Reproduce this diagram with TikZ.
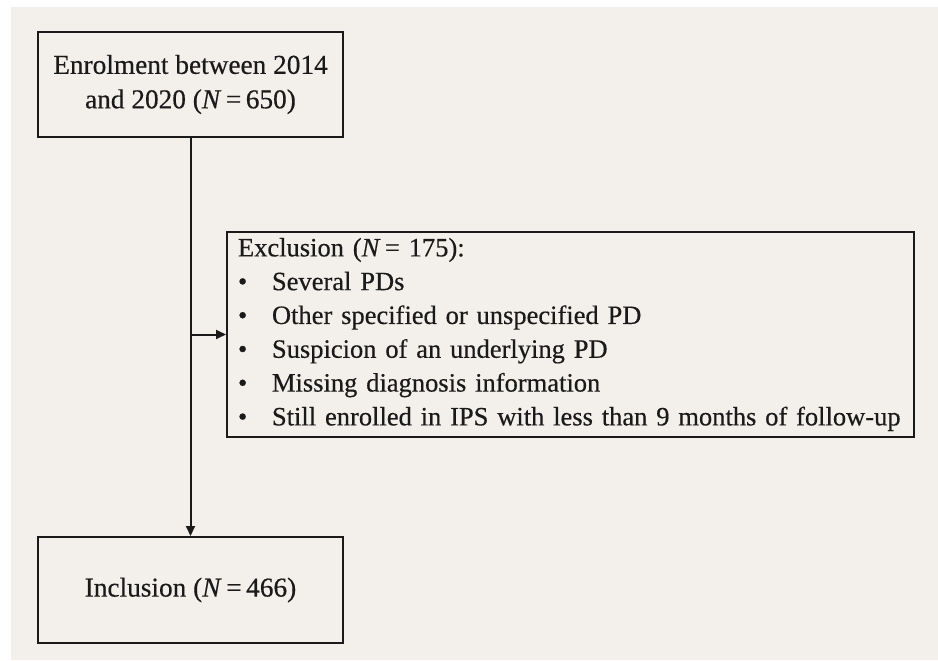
\documentclass[tikz,border=0pt]{standalone}
\usepackage{fontspec}
\setmainfont{Liberation Serif}[FakeBold=0.4]
\usetikzlibrary{arrows.meta}
\definecolor{panelbg}{HTML}{F3F0EB}
\definecolor{ink}{HTML}{1A1A1A}
\begin{document}
\begin{tikzpicture}[x=1pt,y=-1pt,
  box/.style={draw=ink,line width=2pt,rectangle,inner sep=0pt,text=ink,
    font=\fontsize{27.3}{34.5}\selectfont},
  conn/.style={draw=ink,line width=2pt},
  tip/.style={-{Triangle[length=10pt,width=9pt]}}]
\useasboundingbox (0,0) rectangle (938,661);
\fill[white] (0,0) rectangle (938,661);
\fill[panelbg] (11,7) rectangle (938,660);
\node[box,minimum width=305pt,minimum height=105pt,align=center] (enrol) at (190.5,84.5)
  {Enrolment between 2014\\and 2020 (\textit{N}\,=\,650)};
\node[box,minimum width=305pt,minimum height=106pt,align=center] (incl) at (190.5,590)
  {Inclusion (\textit{N}\,=\,466)};
\node[box,minimum width=687pt,minimum height=205pt,align=left,text width=665pt,inner xsep=11pt,
  font=\fontsize{26.5}{33.8}\selectfont] (excl) at (570.5,334.5)
  {Exclusion (\textit{N}\,= 175):\\
   \makebox[34pt][l]{\textbullet}Several PDs\\
   \makebox[34pt][l]{\textbullet}Other specified or unspecified PD\\
   \makebox[34pt][l]{\textbullet}Suspicion of an underlying PD\\
   \makebox[34pt][l]{\textbullet}Missing diagnosis information\\
   \mbox{\makebox[34pt][l]{\textbullet}Still enrolled in IPS with less than 9 months of follow-up}};
\coordinate (junc) at (enrol.south |- excl.west);
\draw[conn,tip] (enrol.south) -- (incl.north);
\draw[conn,tip] (junc) -- (excl.west);
\end{tikzpicture}
\end{document}
